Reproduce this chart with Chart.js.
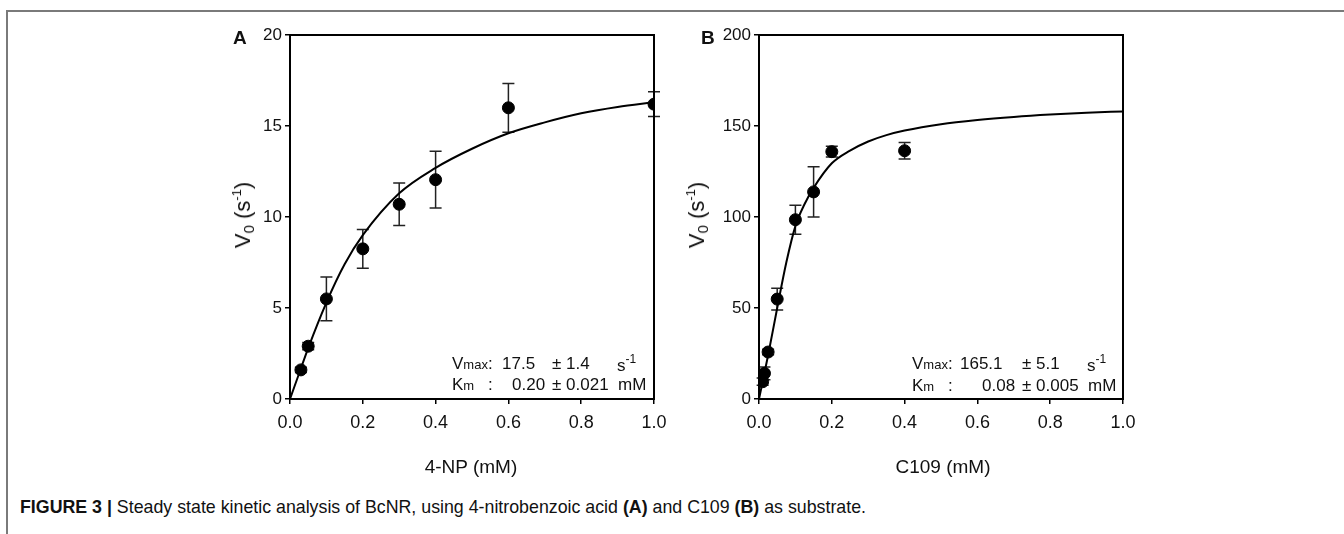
<!DOCTYPE html>
<html>
<head>
<meta charset="utf-8">
<script src="https://cdn.jsdelivr.net/npm/chart.js@4/dist/chart.umd.min.js"></script>
<style>
  html, body { margin: 0; padding: 0; background: #fff; }
  body { width: 1344px; height: 534px; position: relative; overflow: hidden; font-family: "Liberation Sans", Arial, sans-serif; color: #111; }
  .frame { position: absolute; left: 6px; top: 10px; width: 1340px; height: 530px; border-top: 2px solid #7a7a7a; border-left: 2px solid #7a7a7a; }
  canvas { position: absolute; }
  .t { position: absolute; white-space: nowrap; line-height: 1; }
  .panel { font-weight: bold; font-size: 19px; }
  .ytitle { font-size: 22px; transform: translate(-50%, -50%) rotate(-90deg); }
  .ytitle sub { font-size: 15px; vertical-align: -4px; }
  .ytitle sup { font-size: 13px; vertical-align: 9px; }
  .xtitle { font-size: 19px; transform: translate(-50%, -50%); }
  .ann { font-size: 17px; transform: translateY(-50%); }
  .ann small { font-size: 13px; }
  .ann sup { font-size: 12px; vertical-align: 8px; }
  .cap { font-size: 16px; transform: translateY(-50%); }
</style>
</head>
<body>
<div class="frame"></div>
<canvas id="chartA" width="500" height="470" style="left:180px; top:20px; width:500px; height:470px;"></canvas>
<canvas id="chartB" width="500" height="470" style="left:680px; top:20px; width:500px; height:470px;"></canvas>

<div class="t panel" style="left:233px; top:28px;">A</div>
<div class="t panel" style="left:701px; top:28px;">B</div>

<div class="t ytitle" style="left:243px; top:215px;">V<sub>0</sub> (s<sup>-1</sup>)</div>
<div class="t ytitle" style="left:697px; top:215px;">V<sub>0</sub> (s<sup>-1</sup>)</div>

<div class="t xtitle" style="left:471px; top:466px;">4-NP (mM)</div>
<div class="t xtitle" style="left:943px; top:466px;">C109 (mM)</div>

<div class="t ann" style="left:452px; top:363px;">V<small>max</small>:</div>
<div class="t ann" style="left:502px; top:363px;">17.5</div>
<div class="t ann" style="left:552px; top:363px;">± 1.4</div>
<div class="t ann" style="left:617px; top:363px;">s<sup>-1</sup></div>
<div class="t ann" style="left:452px; top:384px;">K<small>m</small></div>
<div class="t ann" style="left:488px; top:384px;">:</div>
<div class="t ann" style="left:512px; top:384px;">0.20</div>
<div class="t ann" style="left:552px; top:384px;">± 0.021</div>
<div class="t ann" style="left:618px; top:384px;">mM</div>

<div class="t ann" style="left:912px; top:363px;">V<small>max</small>:</div>
<div class="t ann" style="left:960px; top:363px;">165.1</div>
<div class="t ann" style="left:1022px; top:363px;">± 5.1</div>
<div class="t ann" style="left:1087px; top:363px;">s<sup>-1</sup></div>
<div class="t ann" style="left:912px; top:385px;">K<small>m</small></div>
<div class="t ann" style="left:948px; top:385px;">:</div>
<div class="t ann" style="left:982px; top:385px;">0.08</div>
<div class="t ann" style="left:1022px; top:385px;">± 0.005</div>
<div class="t ann" style="left:1088px; top:385px;">mM</div>

<div id="caption" class="t cap" style="left:20px; top:508px;"><b>FIGURE 3 |</b> Steady state kinetic analysis of BcNR, using 4-nitrobenzoic acid <b>(A)</b> and C109 <b>(B)</b> as substrate.</div>

<script>
// panel A: 4-NP
const concA = [0.03, 0.05, 0.1, 0.2, 0.3, 0.4, 0.6, 1.0];
const rateA = [1.6, 2.9, 5.5, 8.25, 10.7, 12.05, 16.0, 16.2];
const errA = [0.15, 0.2, 1.2, 1.07, 1.17, 1.56, 1.34, 0.68];
const fitConcA = [0, 0.025, 0.05, 0.1, 0.15, 0.2, 0.3, 0.4, 0.5, 0.6, 0.7, 0.8, 0.9, 1.0];
const fitRateA = [0, 1.4, 2.8, 5.3, 7.4, 9.0, 11.3, 12.7, 13.75, 14.6, 15.2, 15.7, 16.05, 16.3];
const yTicksA = [0, 5, 10, 15, 20];

// panel B: C109
const concB = [0.01, 0.015, 0.025, 0.05, 0.1, 0.15, 0.2, 0.4];
const rateB = [9.5, 14.1, 25.8, 54.9, 98.5, 113.8, 135.9, 136.4];
const errB = [2, 3.5, 1.5, 6, 8, 13.8, 3, 4.6];
const fitConcB = [0, 0.025, 0.05, 0.075, 0.1, 0.125, 0.15, 0.2, 0.25, 0.3, 0.35, 0.4, 0.5, 0.6, 0.7, 0.8, 0.9, 1.0];
const fitRateB = [0, 24, 50, 75, 95, 107, 116, 129.5, 136.5, 141.5, 145, 147.5, 151, 153.3, 155, 156.3, 157.3, 158];
const yTicksB = [0, 50, 100, 150, 200];

const xTicks = [0, 0.2, 0.4, 0.6, 0.8, 1.0];

Chart.defaults.font.family = '"Liberation Sans", Arial, sans-serif';
Chart.defaults.color = '#111';

// error bars + closed box round the plot area
const errorBars = {
    id: 'errorBars',
    beforeDatasetsDraw(chart, args, opts) {
        const ctx = chart.ctx;
        const xs = chart.scales.x, ys = chart.scales.y;
        ctx.save();
        ctx.strokeStyle = '#222';
        ctx.lineWidth = 1.5;
        opts.x.forEach((x, i) => {
            const px = xs.getPixelForValue(x);
            const top = ys.getPixelForValue(opts.y[i] + opts.err[i]);
            const bot = ys.getPixelForValue(opts.y[i] - opts.err[i]);
            ctx.beginPath();
            ctx.moveTo(px, top); ctx.lineTo(px, bot);
            ctx.moveTo(px - 6, top); ctx.lineTo(px + 6, top);
            ctx.moveTo(px - 6, bot); ctx.lineTo(px + 6, bot);
            ctx.stroke();
        });
        ctx.restore();
    },
    afterDraw(chart) {
        const a = chart.chartArea, ctx = chart.ctx;
        ctx.save();
        ctx.strokeStyle = '#000';
        ctx.lineWidth = 2;
        ctx.strokeRect(a.left, a.top, a.right - a.left, a.bottom - a.top);
        ctx.restore();
    }
};

function makeChart(id, conc, rate, err, fitConc, fitRate, yTicks, yAxisWidth, padRight) {
    return new Chart(document.getElementById(id), {
        type: 'scatter',
        data: {
            datasets: [{
                type: 'line',
                data: fitConc.map((x, i) => ({ x: x, y: fitRate[i] })),
                borderColor: '#000',
                borderWidth: 2,
                pointRadius: 0,
                fill: false,
                cubicInterpolationMode: 'monotone'
            }, {
                data: conc.map((x, i) => ({ x: x, y: rate[i] })),
                backgroundColor: '#000',
                borderColor: '#000',
                pointRadius: 6,
                pointHoverRadius: 6
            }]
        },
        options: {
            responsive: false,
            animation: false,
            events: [],
            layout: { padding: { top: 15, right: padRight, left: 0, bottom: 0 } },
            plugins: {
                legend: { display: false },
                tooltip: { enabled: false },
                errorBars: { x: conc, y: rate, err: err }
            },
            scales: {
                x: {
                    type: 'linear', min: 0, max: 1,
                    afterBuildTicks: s => { s.ticks = xTicks.map(v => ({ value: v })); },
                    ticks: { font: { size: 18 }, padding: 8, callback: v => v.toFixed(1) },
                    grid: { drawOnChartArea: false, drawTicks: true, tickLength: 5, color: '#000', lineWidth: 1.5 },
                    border: { display: true, color: '#000', width: 2 },
                    afterFit: s => { s.height = 91; }
                },
                y: {
                    type: 'linear', min: yTicks[0], max: yTicks[yTicks.length - 1],
                    afterBuildTicks: s => { s.ticks = yTicks.map(v => ({ value: v })); },
                    ticks: { font: { size: 17 }, padding: 3 },
                    grid: { drawOnChartArea: false, drawTicks: true, tickLength: 5, color: '#000', lineWidth: 1.5 },
                    border: { display: true, color: '#000', width: 2 },
                    afterFit: s => { s.width = yAxisWidth; }
                }
            }
        },
        plugins: [errorBars]
    });
}

makeChart('chartA', concA, rateA, errA, fitConcA, fitRateA, yTicksA, 110, 26);
makeChart('chartB', concB, rateB, errB, fitConcB, fitRateB, yTicksB, 79, 57);

// fit caption to its width in the figure
const cap = document.getElementById('caption');
let size = 16;
cap.style.fontSize = size + 'px';
size = size * 847 / cap.getBoundingClientRect().width;
cap.style.fontSize = size.toFixed(2) + 'px';
</script>
</body>
</html>
